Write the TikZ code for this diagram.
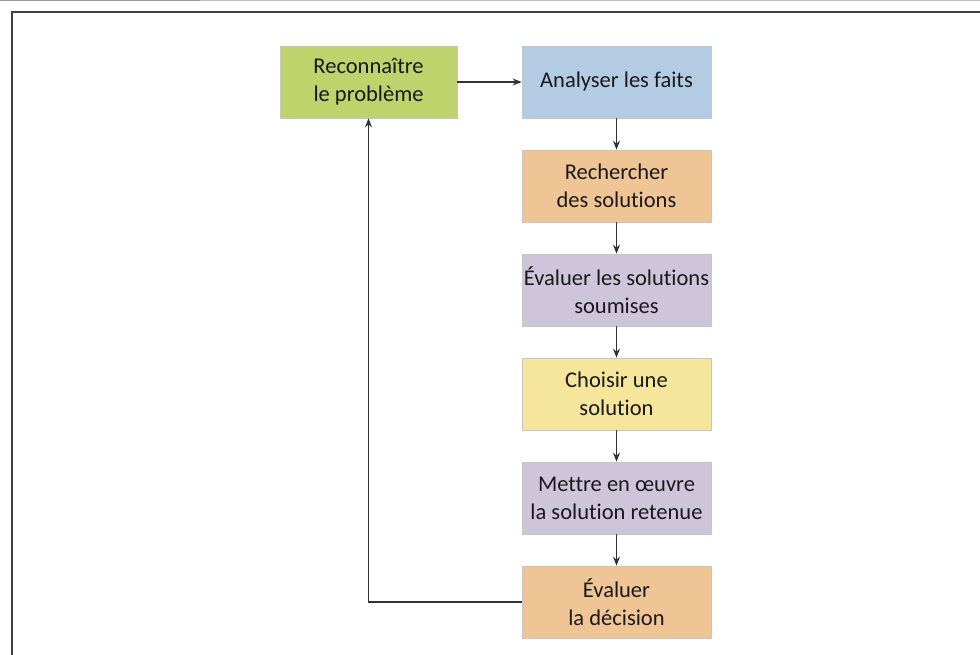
\documentclass[tikz,border=0pt]{standalone}
\usepackage{fontspec}
\setmainfont{Carlito}[Ligatures=NoCommon]
\usepackage{xcolor}
\usetikzlibrary{positioning,arrows.meta}

\definecolor{boxgreen}{HTML}{BED36C}
\definecolor{boxblue}{HTML}{B4CBE4}
\definecolor{boxorange}{HTML}{F0C595}
\definecolor{boxlilac}{HTML}{CEC5DA}
\definecolor{boxyellow}{HTML}{F5E69B}

\begin{document}
\begin{tikzpicture}[
    x=1pt, y=1pt,
    stepbox/.style={rectangle, draw=gray!45, line width=0.6pt, inner xsep=0pt, minimum width=189pt, minimum height=72pt, align=center, font=\fontsize{22.5}{28}\selectfont, text=black!90},
    green/.style={fill=boxgreen},
    blue/.style={fill=boxblue},
    orange/.style={fill=boxorange},
    lilac/.style={fill=boxlilac},
    yellow/.style={fill=boxyellow},
    flow/.style={-{Stealth[length=9pt,width=7pt]}, line width=1.6pt, black!80},
    node distance=31.4pt
]
\useasboundingbox (0,0) rectangle (980,-655);

% frame
\draw[gray!80, line width=1.5pt] (0,-0.5) -- (200,-0.5);
\draw[gray!50, line width=1.5pt] (200,-0.5) -- (980,-0.5);
\draw[black!75, line width=2pt] (12,-655) -- (12,-12) -- (980,-12);

\node[stepbox, green, minimum width=177pt] (recon) at (368.5,-82) {Reconnaître\\le problème};
\node[stepbox, blue] (analyse) at (616.5,-82) {Analyser les faits};
\node[stepbox, orange, below=of analyse] (cherche) {Rechercher\\des solutions};
\node[stepbox, lilac, below=of cherche] (evalsol) {Évaluer les solutions\\soumises};
\node[stepbox, yellow, below=of evalsol] (choix) {Choisir une\\solution};
\node[stepbox, lilac, below=of choix] (oeuvre) {Mettre en œuvre\\la solution retenue};
\node[stepbox, orange, below=of oeuvre] (evaldec) {Évaluer\\la décision};

\draw[flow] (recon) -- (analyse);
\draw[flow] (analyse) -- (cherche);
\draw[flow] (cherche) -- (evalsol);
\draw[flow] (evalsol) -- (choix);
\draw[flow] (choix) -- (oeuvre);
\draw[flow] (oeuvre) -- (evaldec);
\draw[flow] (evaldec.west) -| (recon.south);

\end{tikzpicture}
\end{document}
